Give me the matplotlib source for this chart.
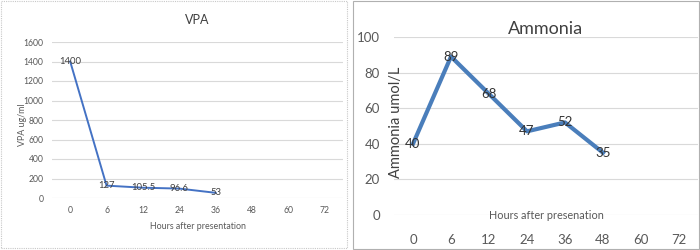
import matplotlib.pyplot as plt
from matplotlib.patches import Rectangle

plt.rcParams['font.family'] = ['Lato', 'DejaVu Sans']

hours = ['0', '6', '12', '24', '36', '48', '60', '72']
vpa = [1400, 127, 105.5, 96.6, 53]
vpa_labels = ['1400', '127', '105.5', '96.6', '53']
ammonia = [40, 89, 68, 47, 52, 35]
ammonia_labels = ['40', '89', '68', '47', '52', '35']

blue = '#4472C4'
grid = '#d9d9d9'
tick = '#595959'

fig = plt.figure(figsize=(7, 2.5), dpi=100)

# panel frames
fig.patches.append(Rectangle((0.002, 0.01), 0.494, 0.985, transform=fig.transFigure,
                             fill=False, edgecolor='#c8c8c8', lw=0.8, ls=(0, (1, 1))))
fig.patches.append(Rectangle((0.504, 0.006), 0.494, 0.99, transform=fig.transFigure,
                             fill=False, edgecolor='#b0b0b0', lw=0.8))

# VPA
ax1 = fig.add_axes([52 / 700, 0.208, 291 / 700, 0.624])
x1 = list(range(len(vpa)))
ax1.plot(x1, vpa, color=blue, lw=1.4)
for xi, yi, lab in zip(x1, vpa, vpa_labels):
    ax1.text(xi, yi, lab, ha='center', va='center', fontsize=6.8, color='#404040')
ax1.set_xlim(-0.5, len(hours) - 0.5)
ax1.set_ylim(0, 1600)
ax1.set_yticks(range(0, 1601, 200))
ax1.set_xticks(range(len(hours)))
ax1.set_xticklabels(hours)
ax1.tick_params(labelsize=6.2, colors=tick, length=0, pad=6)
ax1.yaxis.grid(True, color=grid, lw=0.8)
ax1.set_axisbelow(True)
for s in ax1.spines.values():
    s.set_visible(False)
ax1.set_title('VPA', fontsize=9, color='#404040', pad=13)
ax1.set_xlabel('Hours after presentation', fontsize=6.4, color=tick, labelpad=5)
ax1.set_ylabel('VPA ug/ml', fontsize=6.4, color=tick)
ax1.yaxis.set_label_coords(-0.085, 0.47)

# Ammonia
ax2 = fig.add_axes([394 / 700, 0.14, 304 / 700, 0.712])
x2 = list(range(len(ammonia)))
ax2.plot(x2, ammonia, color='#4a7ebb', lw=3)
for xi, yi, lab in zip(x2, ammonia, ammonia_labels):
    ax2.text(xi, yi, lab, ha='center', va='center', fontsize=9.5, color='#333333')
ax2.set_xlim(-0.5, len(hours) - 0.5)
ax2.set_ylim(0, 100)
ax2.set_yticks(range(0, 101, 20))
ax2.set_xticks(range(len(hours)))
ax2.set_xticklabels(hours)
ax2.tick_params(labelsize=9.5, colors=tick, length=0)
ax2.tick_params(axis='x', pad=14)
ax2.tick_params(axis='y', pad=10)
ax2.yaxis.grid(True, color=grid, lw=0.8)
ax2.set_axisbelow(True)
for s in ax2.spines.values():
    s.set_visible(False)
ax2.set_title('Ammonia', fontsize=13, color='#404040', pad=-2)
ax2.text(0.5, -0.005, 'Hours after presenation', transform=ax2.transAxes,
         ha='center', va='center', fontsize=7.8, color=tick)
ax2.text(0.005, 0.52, 'Ammonia umol/L', transform=ax2.transAxes, rotation=90,
         ha='center', va='center', fontsize=10.5, color='#404040')

fig.savefig('out.png', dpi=100)
